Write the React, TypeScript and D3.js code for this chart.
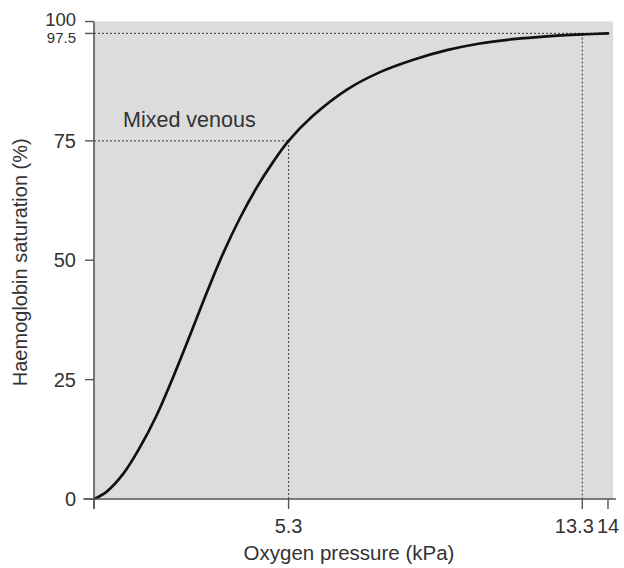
import React from "react";
import * as d3 from "d3";

// Oxygen–haemoglobin dissociation curve
const pressure = [0, 0.34, 0.8, 1.25, 1.71, 2.16, 2.62, 3.07, 3.52, 3.98, 4.43, 4.88, 5.3, 5.97, 6.88, 7.79, 8.7, 9.61, 10.51, 11.42, 12.33, 13.3, 14];
const saturation = [0, 1.5, 5.3, 10.8, 17.6, 25.6, 34.4, 43.2, 51.5, 58.9, 65.2, 70.6, 75, 80.3, 85.7, 89.4, 92.0, 94.0, 95.4, 96.3, 96.9, 97.3, 97.5];

const xTicks = [0, 5.3, 13.3, 14];
const xTickLabels = ["", "5.3", "13.3", "14"];
const yTicks = [0, 25, 50, 75, 97.5, 100];
const yTickLabels = ["0", "25", "50", "75", "97.5", "100"];

const venous = { p: 5.3, s: 75, label: "Mixed venous" };
const arterial = { p: 13.3, s: 97.5 };

const W = 624;
const H = 568;
const left = 94;
const right = 608;
const panelRight = 613;
const top = 21.5;
const bottom = 499;

export default function App() {
  const x = d3.scaleLinear().domain([0, 14]).range([left, right]);
  const y = d3.scaleLinear().domain([0, 100]).range([bottom, top]);
  const pts: [number, number][] = pressure.map((p, i) => [p, saturation[i]]);
  const line = d3
    .line<[number, number]>()
    .x((d) => x(d[0]))
    .y((d) => y(d[1]))
    .curve(d3.curveCatmullRom.alpha(0.5));

  const font = "'Liberation Sans', Arial, Helvetica, sans-serif";
  const textColor = "#333";
  const axisColor = "#555";
  const dotColor = "#555";

  const xLabelDx: Record<string, number> = { "5.3": 0, "13.3": -8, "14": 0 };
  const yLabelSize: Record<string, number> = { "97.5": 15, "100": 18.5 };
  const yLabelDy: Record<string, number> = { "97.5": 4.5, "100": -2 };

  return (
    <svg
      width={W}
      height={H}
      style={{ position: "absolute", left: 0, top: 0, background: "#fff" }}
      fontFamily={font}
    >
      {/* panel */}
      <rect x={left + 1} y={top} width={panelRight - left - 1} height={bottom - top} fill="#dcdcdc" />

      {/* reference dotted lines */}
      <line x1={left} x2={x(venous.p)} y1={y(venous.s)} y2={y(venous.s)} stroke={dotColor} strokeWidth={1.2} strokeDasharray="2,2" />
      <line x1={x(venous.p)} x2={x(venous.p)} y1={y(venous.s)} y2={y(0)} stroke={dotColor} strokeWidth={1.2} strokeDasharray="2,2" />
      <line x1={left} x2={panelRight - 3} y1={y(arterial.s)} y2={y(arterial.s)} stroke={dotColor} strokeWidth={1.2} strokeDasharray="2,2" />
      <line x1={x(arterial.p)} x2={x(arterial.p)} y1={y(arterial.s)} y2={y(0)} stroke={dotColor} strokeWidth={1.2} strokeDasharray="2,2" />

      {/* curve */}
      <path d={line(pts) || ""} fill="none" stroke="#111" strokeWidth={2.7} strokeLinecap="round" />

      {/* axes */}
      <line x1={left} x2={left} y1={top} y2={bottom + 10} stroke={axisColor} strokeWidth={1.6} />
      <line x1={left - 11} x2={panelRight + 3} y1={bottom} y2={bottom} stroke={axisColor} strokeWidth={1.6} />

      {/* y ticks */}
      {yTicks.map((t, i) => (
        <g key={"y" + t}>
          <line x1={left - 9} x2={left} y1={y(t)} y2={y(t)} stroke={axisColor} strokeWidth={1.4} />
          <text
            x={left - 18}
            y={y(t) + (yLabelDy[yTickLabels[i]] || 0)}
            textAnchor="end"
            dominantBaseline="central"
            fontSize={yLabelSize[yTickLabels[i]] || 20}
            fill={textColor}
          >
            {yTickLabels[i]}
          </text>
        </g>
      ))}

      {/* x ticks */}
      {xTicks.map((t, i) => (
        <g key={"x" + t}>
          <line x1={x(t)} x2={x(t)} y1={bottom} y2={bottom + 10} stroke={axisColor} strokeWidth={1.4} />
          {xTickLabels[i] && (
            <text x={x(t) + (xLabelDx[xTickLabels[i]] || 0)} y={bottom + 34} textAnchor="middle" fontSize={20} fill={textColor}>
              {xTickLabels[i]}
            </text>
          )}
        </g>
      ))}

      {/* annotation */}
      <text x={123} y={127} fontSize={21.5} fill={textColor}>
        {venous.label}
      </text>

      {/* axis titles */}
      <text x={349} y={560} textAnchor="middle" fontSize={20.5} fill={textColor}>
        Oxygen pressure (kPa)
      </text>
      <text
        transform={`translate(27, ${(top + bottom) / 2 + 2}) rotate(-90)`}
        textAnchor="middle"
        fontSize={20}
        fill={textColor}
      >
        Haemoglobin saturation (%)
      </text>
    </svg>
  );
}
